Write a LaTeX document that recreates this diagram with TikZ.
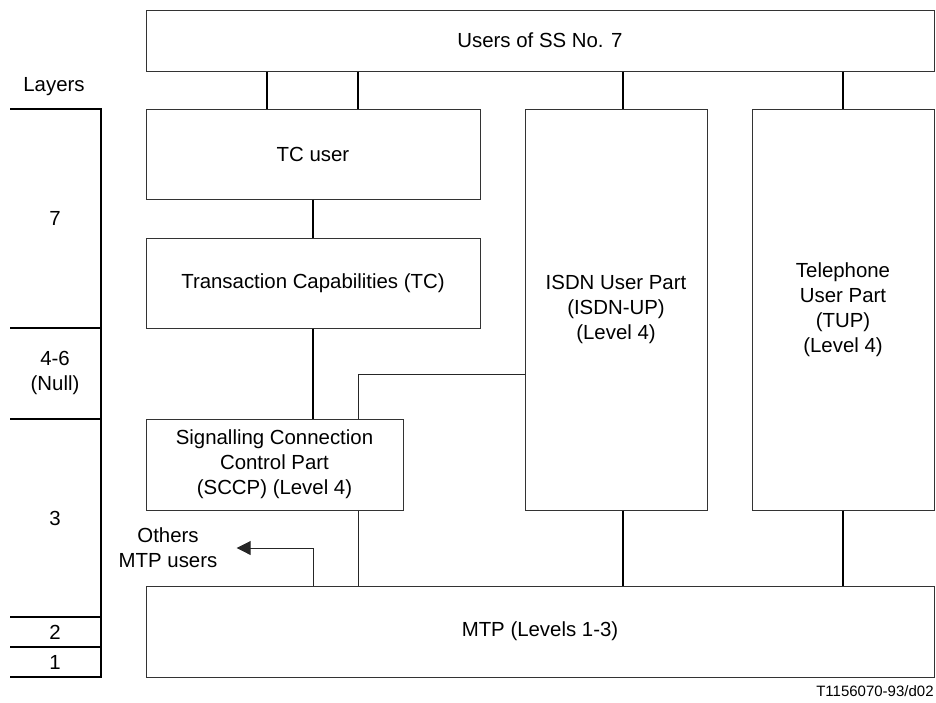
\documentclass[tikz,border=0pt]{standalone}
\usepackage{fontspec}
\setmainfont{Liberation Sans}
\usetikzlibrary{arrows.meta}

\begin{document}
\begin{tikzpicture}[x=0.5pt,y=-0.5pt,
    font=\fontsize{10.2pt}{12.5pt}\selectfont,
    blk/.style={draw=black!80, line width=0.5pt, align=center, inner sep=0pt},
    link/.style={black, line width=0.8pt},
    thinlink/.style={black!85, line width=0.5pt},
    layer/.style={black, line width=0.9pt}]
  \useasboundingbox (0,0) rectangle (936,702);

  % protocol blocks
  \node[blk, minimum width=394pt, minimum height=30.5pt] (users) at (540,40.5) {Users of SS No. 7};
  \node[blk, minimum width=167pt, minimum height=45pt] (tcuser) at (313,154) {TC user};
  \node[blk, minimum width=167pt, minimum height=45pt] (tc) at (313,283) {Transaction Capabilities (TC)};
  \node[blk, minimum width=128.5pt, minimum height=45.5pt] (sccp) at (274.5,464.5)
       {Signalling Connection\\Control Part\\(SCCP) (Level 4)};
  \node[blk, minimum width=91pt, minimum height=200.5pt] (isdn) at (616,309.5)
       {ISDN User Part\\(ISDN-UP)\\(Level 4)};
  \node[blk, minimum width=91pt, minimum height=200.5pt] (tup) at (843,309.5)
       {Telephone\\User Part\\(TUP)\\(Level 4)};
  \node[blk, minimum width=394pt, minimum height=45.5pt] (mtp) at (540,631.5) {MTP (Levels 1-3)};

  % links between the blocks
  \draw[link] (users.south -| 267,0) -- (tcuser.north -| 267,0);
  \draw[link] (users.south -| 358,0) -- (tcuser.north -| 358,0);
  \draw[link] (users.south -| 623,0) -- (isdn.north -| 623,0);
  \draw[link] (users.south -| tup.north) -- (tup.north);
  \draw[link] (tcuser.south) -- (tc.north);
  \draw[link] (tc.south) -- (sccp.north -| tc.south);
  \draw[link] (isdn.south -| 623,0) -- (mtp.north -| 623,0);
  \draw[link] (tup.south) -- (mtp.north -| tup.south);
  % ISDN-UP reaches SCCP and MTP
  \draw[thinlink] (isdn.west |- 0,374) -| (sccp.north -| 358,0);
  \draw[thinlink] (sccp.south -| 358,0) -- (mtp.north -| 358,0);

  % other MTP users
  \node[align=center, inner xsep=9.5pt, inner ysep=0pt] (others) at (168,548) {Others\\MTP users};
  \draw[thinlink, -{Triangle[length=7pt,width=7pt]}] (mtp.north -| tc.south) |- (others.east);

  % layer scale on the left
  \node (layers) at (54,87) {Layers};
  \draw[layer] (10,109) -- (101,109) -- (101,677) -- (10,677);
  \foreach \y in {328,419,617,647}
    \draw[layer] (10,\y) -- (101,\y);
  \node (lay7) at (55,218.5) {7};
  \node[align=center] (lay46) at (55,373) {4-6\\(Null)};
  \node (lay3) at (55,518) {3};
  \node (lay2) at (55,632) {2};
  \node (lay1) at (55,662) {1};

  % figure reference
  \node[anchor=east, inner sep=0pt, font=\fontsize{7.5pt}{9pt}\selectfont] (figref) at (934,691) {T1156070-93/d02};
\end{tikzpicture}
\end{document}
